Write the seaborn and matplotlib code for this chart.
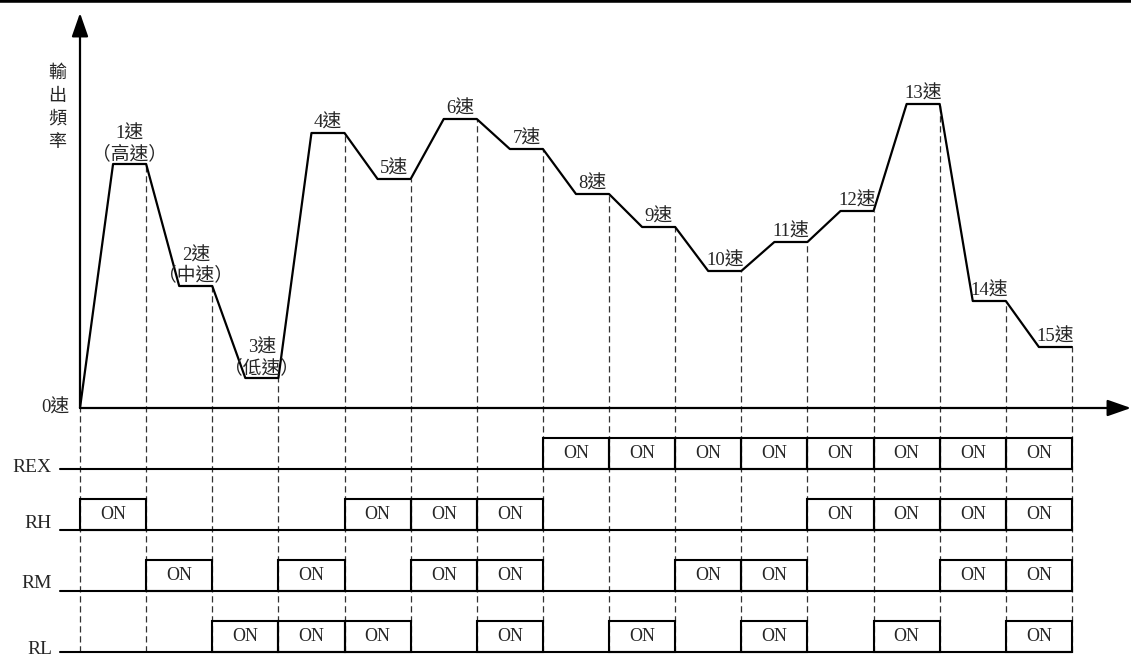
import matplotlib
matplotlib.use('Agg')
import matplotlib.pyplot as plt
import seaborn as sns
import pandas as pd

# plateau heights of the 15 speeds (relative output frequency)
speed_levels = [244, 122, 30, 275, 229, 289, 259, 214, 181, 137, 166, 197, 304, 107, 61]
speed_names = [f'{i}速' for i in range(1, 16)]
speed_notes = {1: '（高速）', 2: '（中速）', 3: '（低速）'}

# which terminals are ON for each speed step 1..15
signal_names = ['REX', 'RH', 'RM', 'RL']
signal_on = {
    'REX': [8, 9, 10, 11, 12, 13, 14, 15],
    'RH': [1, 5, 6, 7, 12, 13, 14, 15],
    'RM': [2, 4, 6, 7, 10, 11, 14, 15],
    'RL': [3, 4, 5, 7, 9, 11, 13, 15],
}

sns.set_style('white')
plt.rcParams['font.family'] = ['Liberation Serif', 'Noto Sans CJK TC']

# time axis in speed steps, frequency profile: ramp half a step, then hold
t = [0.0]
f = [0]
for i, lv in enumerate(speed_levels):
    t += [i + 0.5, i + 1.0]
    f += [lv, lv]
profile = pd.DataFrame({'t': t, 'f': f})

step_px = 66.13
x_end = (1131 - 80) / step_px
fig = plt.figure(figsize=(11.31, 6.57), dpi=100)
ax = fig.add_axes([0, 0, 1, 1])
ax.set_xlim(-80 / step_px, x_end)
ax.set_ylim(-249, 408)
ax.axis('off')

row_base = {'REX': -61, 'RH': -122, 'RM': -183, 'RL': -244}
pulse_h = 31
bottom = row_base['RL']

# dashed guides at every step boundary
tops = [0] + speed_levels
ax.vlines(range(16), bottom, tops, colors='#333333', linestyles=(0, (5, 3)), lw=0.9, zorder=1)

sns.lineplot(data=profile, x='t', y='f', estimator=None, sort=False, color='black', lw=1.6, ax=ax, zorder=3)

# axes with arrows
arrow = dict(arrowstyle='-|>,head_length=0.8,head_width=0.28', mutation_scale=18,
             color='black', lw=1.6, shrinkA=0, shrinkB=0)
ax.annotate('', xy=(0, 395), xytext=(0, 0), arrowprops=arrow)
ax.annotate('', xy=(x_end, 0), xytext=(0, 0), arrowprops=arrow)
ax.axhline(408, color='black', lw=4)

ax.text(-11 / step_px, 0, '0速', ha='right', va='center', fontsize=13.5)
ax.text(-23 / step_px, 344, '輸\n出\n頻\n率', ha='center', va='top', fontsize=13,
        linespacing=1.35, family=['Noto Sans CJK TC'])

for i, (name, lv) in enumerate(zip(speed_names, speed_levels)):
    label = name
    if i + 1 in speed_notes:
        label = name + '\n' + speed_notes[i + 1]
    ax.text(i + 0.75, lv + 1, label, ha='center', va='bottom', fontsize=13.5, linespacing=1.15)

# timing rows
label_dy = {'REX': 2, 'RH': 7, 'RM': 7, 'RL': 2}
for name in signal_names:
    base = row_base[name]
    ax.plot([-0.3, 15.0], [base, base], color='black', lw=1.5, zorder=2)
    ax.text(-28 / step_px, base + label_dy[name], name, ha='right', va='center', fontsize=14)
    steps = signal_on[name]
    ax.bar([s - 0.5 for s in steps], pulse_h, width=1, bottom=base, fill=False,
           edgecolor='black', lw=1.5, zorder=2)
    for s in steps:
        ax.text(s - 0.5, base + pulse_h / 2, 'ON', ha='center', va='center', fontsize=13)

fig.savefig('out.png', dpi=100)
